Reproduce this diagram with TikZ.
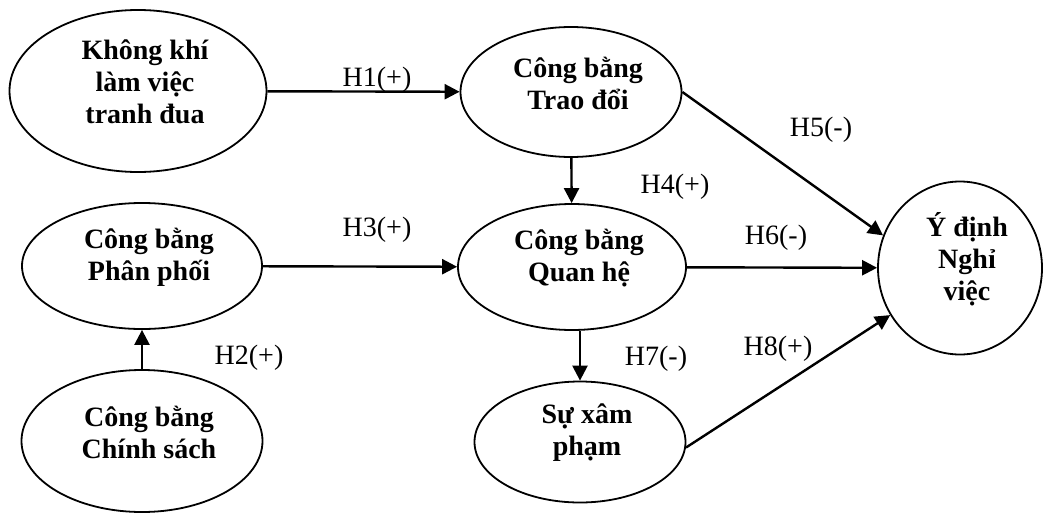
\documentclass[tikz,border=0pt]{standalone}
\usepackage{fontspec}
\setmainfont{Liberation Serif}
\usetikzlibrary{shapes.geometric,arrows.meta}

\tikzset{
    oval/.style={draw,ellipse,line width=.9pt,inner sep=0pt},
    ovaltext/.style={align=center,inner sep=0pt,font=\fontsize{14}{16}\selectfont\bfseries,xshift=3.5pt,yshift=4.5pt},
    hyp/.style={inner sep=0pt,font=\fontsize{14}{16}\selectfont},
    link/.style={line width=1.2pt,-{Triangle[length=7.5pt,width=7.5pt]}}
}

\begin{document}
\begin{tikzpicture}[x=.5pt,y=-.5pt]
            \useasboundingbox (0,0) rectangle (1043,514);
            % constructs
            \foreach \n/\x/\y/\w/\h/\t in {
                khongkhi/138/91/128.5/81/{Không khí\\làm việc\\tranh đua},
                traodoi/571/92/110.5/65/{Công bằng\\Trao đổi},
                phanphoi/142/266/120/63/{Công bằng\\Phân phối},
                quanhe/572/267/114/63/{Công bằng\\Quan hệ},
                chinhsach/142/441/120.5/71/{Công bằng\\Chính sách},
                xampham/580/442/105.5/60.5/{Sự xâm\\phạm},
                nghiviec/960/268/82/86.5/{Ý định\\Nghỉ\\việc}}
            {
                \node[oval,minimum width=\w pt,minimum height=\h pt] (\n) at (\x,\y) {};
                \node[ovaltext] at (\n) {\t};
            }
            % paths
            \draw[link] (khongkhi) -- (traodoi);
            \draw[link] (chinhsach) -- (phanphoi);
            \draw[link] (phanphoi) -- (quanhe);
            \draw[link] (traodoi) -- (quanhe);
            \draw[link] (traodoi.east) -- (nghiviec.157);
            \draw[link] (quanhe) -- (nghiviec);
            \draw[link] (xampham.north |- quanhe.south) -- (xampham.north);
            \draw[link] (xampham.-3) -- (nghiviec.214);
            % hypotheses
            \foreach \x/\y/\t in {377/80/H1(+),249/358/H2(+),377/230/H3(+),675/187/H4(+),
                                  821/130/H5(-),776/238/H6(-),656/359/H7(-),778/349/H8(+)}
                \node[hyp] at (\x,\y) {\t};
        \end{tikzpicture}
\end{document}
